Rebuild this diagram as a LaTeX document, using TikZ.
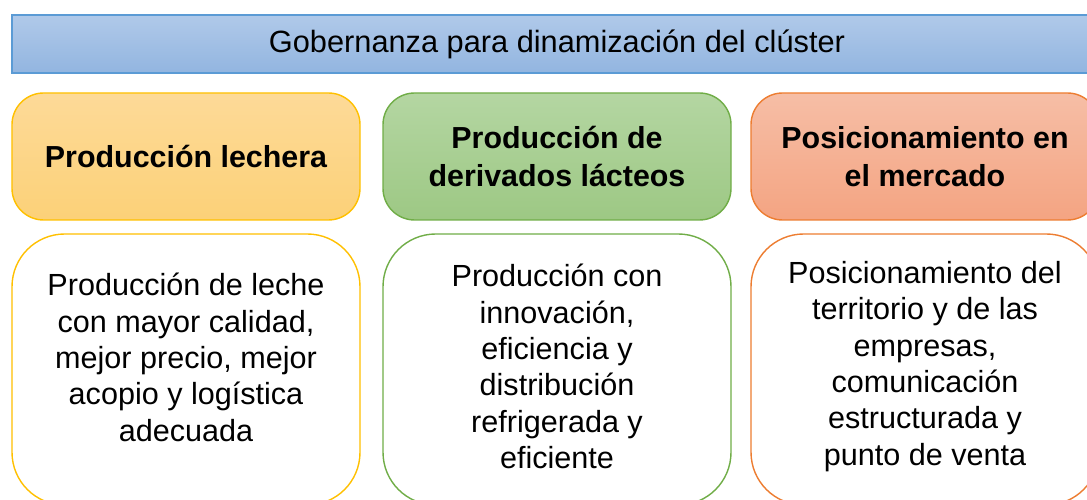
\documentclass[tikz,border=0pt]{standalone}
\usepackage{fontspec}
\setmainfont{Liberation Sans}
\usepackage{tikz}

\definecolor{bordeazul}{HTML}{5B9BD5}
\definecolor{bordeamarillo}{HTML}{FFC000}
\definecolor{bordeverde}{HTML}{70AD47}
\definecolor{bordenaranja}{HTML}{ED7D31}

\tikzset{
  titulo/.style={rounded corners=18pt, line width=0.8pt, align=center,
    minimum width=6.96cm, minimum height=2.54cm, font=\fontsize{17.3}{21.5}\selectfont\bfseries},
  detalle/.style={rounded corners=30pt, line width=0.8pt, fill=white, align=center,
    minimum width=6.96cm, minimum height=5.42cm},
  texto/.style={align=center, font=\fontsize{17.4}{20.7}\selectfont}
}

\begin{document}
\begin{tikzpicture}
    \useasboundingbox (0,0) rectangle (21.74,-10);
    \clip (0,0) rectangle (21.74,-10);

        % Gobernanza
        \node[draw=bordeazul, line width=0.8pt, top color={rgb,255:red,176;green,201;blue,233}, bottom color={rgb,255:red,146;green,181;blue,224},
              minimum width=21.8cm, minimum height=1.16cm, font=\fontsize{17.5}{20}\selectfont] (gob) at (11.14,-0.88) {Gobernanza para dinamización del clúster};

        % Titulos
        \node[titulo, draw=bordeamarillo, top color={rgb,255:red,253;green,218;blue,152}, bottom color={rgb,255:red,252;green,209;blue,120}] (lechera) at (3.72,-3.13) {Producción lechera};
        \node[titulo, draw=bordeverde, top color={rgb,255:red,180;green,214;blue,162}, bottom color={rgb,255:red,157;green,200;blue,132}] (derivados) at (11.14,-3.13) {Producción de\\derivados lácteos};
        \node[titulo, draw=bordenaranja, top color={rgb,255:red,246;green,190;blue,166}, bottom color={rgb,255:red,244;green,164;blue,130}] (mercado) at (18.5,-3.13) {Posicionamiento en\\el mercado};

        % Detalles
        \node[detalle, draw=bordeamarillo] (detlechera) at (3.72,-7.39) {};
        \node[detalle, draw=bordeverde] (detderivados) at (11.14,-7.39) {};
        \node[detalle, draw=bordenaranja] (detmercado) at (18.5,-7.39) {};

        \node[texto] (txtlechera) at (3.72,-7.15) {Producción de leche\\con mayor calidad,\\mejor precio, mejor\\acopio y logística\\adecuada};
        \node[texto] (txtderivados) at (11.14,-7.33) {Producción con\\innovación,\\eficiencia y\\distribución\\refrigerada y\\eficiente};
        \node[texto] (txtmercado) at (18.5,-7.33) {Posicionamiento del\\territorio y de las\\empresas,\\comunicación\\estructurada y\\punto de venta};

    \end{tikzpicture}
\end{document}
